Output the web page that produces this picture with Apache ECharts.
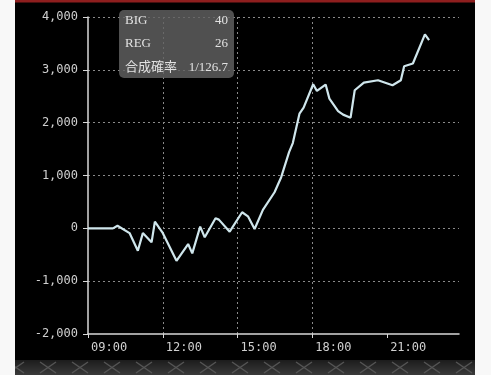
<!DOCTYPE html>
<html><head><meta charset="utf-8">
<script src="https://cdn.jsdelivr.net/npm/echarts@6/dist/echarts.min.js"></script>
<style>html,body{margin:0;padding:0;background:#f8f8f8}#c{width:491px;height:375px}</style>
</head><body><div id="c"></div>
<script>
var times = ["09:00","10:00","10:11","10:40","11:00","11:12","11:33","11:41","11:59","12:33","13:01","13:11","13:30","13:41","14:07","14:15","14:41","15:11","15:25","15:41","16:01","16:29","16:45","17:04","17:13","17:29","17:39","18:02","18:11","18:32","18:41","19:02","19:14","19:32","19:42","20:04","20:38","21:13","21:33","21:41","22:02","22:31","22:41"];
var values = [0,0,50,-90,-425,-90,-265,127,-75,-615,-297,-475,32,-170,190,165,-63,304,228,-12,350,683,968,1442,1613,2170,2284,2727,2600,2721,2455,2220,2152,2095,2613,2759,2803,2708,2803,3069,3120,3670,3562];
var xTickLabels = ["09:00","12:00","15:00","18:00","21:00"];
var xAxisEnd = "23:53";
var yTicks = [-2000,-1000,0,1000,2000,3000,4000];
var infoLabels = ["BIG","REG","合成確率"];
var infoValues = ["40","26","1/126.7"];

function toH(s){var p=s.split(":");return +p[0]+(+p[1])/60;}
function fmtH(h){var hh=Math.floor(h+1e-6);return (hh<10?"0":"")+hh+":00";}
function fmtN(v){var s=Math.abs(v).toString().replace(/\B(?=(\d{3})+(?!\d))/g,",");return (v<0?"-":"")+s;}

var pc=document.createElement('canvas');pc.width=32;pc.height=15;
var g=pc.getContext('2d');
var grd=g.createLinearGradient(0,0,0,15);grd.addColorStop(0,'#1c1c1c');grd.addColorStop(1,'#3a3a3a');
g.fillStyle=grd;g.fillRect(0,0,32,15);
g.strokeStyle='rgba(90,90,90,0.9)';g.lineWidth=1.5;
g.beginPath();g.moveTo(8,2);g.lineTo(24,13);g.moveTo(24,2);g.lineTo(8,13);g.stroke();

var data = times.map(function(t,i){return [toH(t),values[i]];});
var mono = "'DejaVu Sans Mono', monospace";
var chart = echarts.init(document.getElementById('c'));
var graphics = [
  {type:'rect',z:-10,shape:{x:15,y:0,width:460,height:361},style:{fill:'#000'}},
  {type:'rect',z:-9,shape:{x:15,y:0,width:460,height:2.5},style:{fill:'#8e1e1e'}},
  {type:'rect',z:-9,shape:{x:15,y:360,width:460,height:15},style:{fill:{image:pc,repeat:'repeat'}}},
  {type:'rect',z:100,shape:{x:119,y:10,width:115,height:68,r:5},style:{fill:'rgba(98,98,98,0.82)'}}
];
infoLabels.forEach(function(l,i){
  graphics.push({type:'text',z:101,left:125,top:14+i*23.5,style:{text:l,fill:'#e2e2e2',font:"13px 'Liberation Serif','Noto Sans CJK JP',serif"}});
  graphics.push({type:'text',z:101,right:491-228,top:14+i*23.5,style:{text:infoValues[i],fill:'#e2e2e2',align:'right',font:"13px 'Liberation Serif',serif"}});
});
chart.setOption({
  animation:false,
  backgroundColor:'#f8f8f8',
  grid:{left:88,right:32,top:17,bottom:41},
  xAxis:{type:'value',min:9,max:toH(xAxisEnd),interval:3,
    axisLine:{onZero:false,lineStyle:{color:'#d8d8d8',width:1.5}},
    axisTick:{length:4,lineStyle:{color:'#d8d8d8'},customValues:xTickLabels.map(toH)},
    axisLabel:{customValues:xTickLabels.map(toH),formatter:fmtH,align:'left',padding:[0,0,0,3],margin:8,color:'#d0d0d0',fontFamily:mono,fontSize:12},
    splitLine:{show:true,showMinLine:false,showMaxLine:false,lineStyle:{color:'#8a8a8a',type:[2,3],width:1}}
  },
  yAxis:{type:'value',min:yTicks[0],max:yTicks[yTicks.length-1],interval:1000,
    axisLine:{show:true,onZero:false,lineStyle:{color:'#d8d8d8',width:1.5}},
    axisTick:{show:true,length:5,lineStyle:{color:'#d8d8d8'}},
    axisLabel:{formatter:fmtN,margin:10,color:'#d0d0d0',fontFamily:mono,fontSize:12},
    splitLine:{show:true,showMinLine:false,lineStyle:{color:'#8a8a8a',type:[2,3],width:1}}
  },
  series:[{type:'line',data:data,showSymbol:false,lineStyle:{color:'#cfe6ec',width:2.2},z:5}],
  graphic:graphics
});
</script></body></html>
